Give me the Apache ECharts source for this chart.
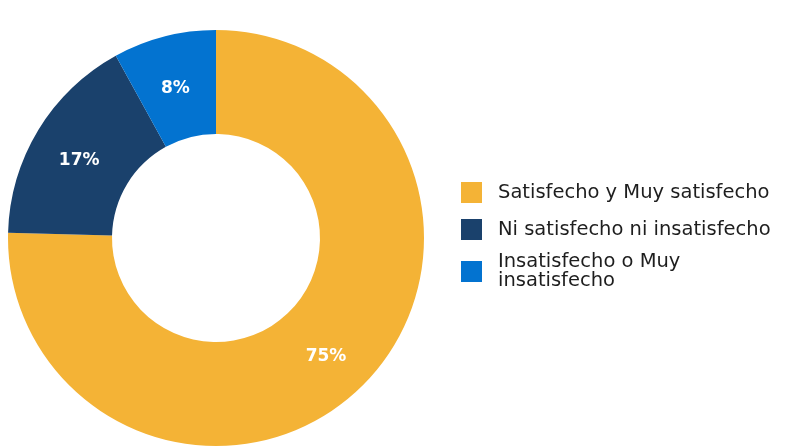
<!DOCTYPE html>
<html>
<head>
<meta charset="utf-8">
<script src="https://cdn.jsdelivr.net/npm/echarts@6/dist/echarts.min.js"></script>
<style>
html,body{margin:0;padding:0;background:#fff;}
#c{width:785px;height:446px;}
</style>
</head>
<body>
<div id="c"></div>
<script>
const categories = ['Satisfecho y Muy satisfecho', 'Ni satisfecho ni insatisfecho', 'Insatisfecho o Muy insatisfecho'];
const values = [75.4, 16.6, 8.0];
const colors = ['#F4B336', '#1A416C', '#0373D0'];

const legendTops = [182, 219, 252];

const chart = echarts.init(document.getElementById('c'), null, {renderer: 'canvas'});
chart.setOption({
  backgroundColor: '#ffffff',
  animation: false,
  legend: categories.map((name, i) => ({
    data: [name],
    left: 461,
    top: legendTops[i],
    padding: 0,
    itemWidth: 21,
    itemHeight: 21,
    icon: 'rect',
    textStyle: {
      fontFamily: 'DejaVu Sans',
      fontSize: 19.5,
      color: '#1e1e1e',
      lineHeight: 19,
      width: 285,
      overflow: 'break',
      padding: [0, 0, 0, 11]
    }
  })),
  series: [{
    type: 'pie',
    center: [216, 238],
    radius: [104, 208],
    startAngle: 90,
    clockwise: true,
    avoidLabelOverlap: false,
    label: {
      show: true,
      position: 'inside',
      color: '#ffffff',
      fontFamily: 'DejaVu Sans',
      fontWeight: 'bold',
      fontSize: 17,
      offset: [-1, 5],
      formatter: p => Math.round(p.value) + '%'
    },
    labelLine: {show: false},
    emphasis: {disabled: true},
    data: categories.map((name, i) => ({
      name: name,
      value: values[i],
      itemStyle: {color: colors[i]}
    }))
  }]
});
</script>
</body>
</html>
